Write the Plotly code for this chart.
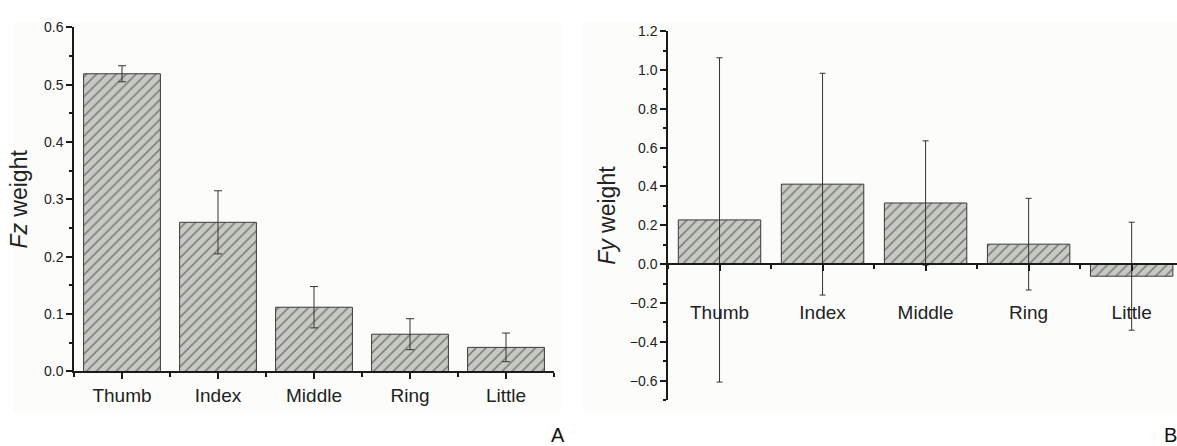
import plotly.graph_objects as go

W, H = 1177, 446

categories = ["Thumb", "Index", "Middle", "Ring", "Little"]
fz_values = [0.519, 0.260, 0.112, 0.065, 0.042]
fz_errors = [0.014, 0.055, 0.036, 0.027, 0.025]
fy_values = [0.228, 0.412, 0.315, 0.103, -0.062]
fy_errors = [0.835, 0.571, 0.320, 0.236, 0.278]

FONT = "Liberation Sans, Arial, sans-serif"
BAR_BG = "#c7c9c3"
HATCH = "#262626"
EDGE = "#3a3a3a"
AX = "#1a1a1a"

xs = list(range(len(categories)))

def bar_trace(vals, errs, xa, ya, cap):
    return go.Bar(
        x=xs, y=vals, width=0.8, xaxis=xa, yaxis=ya, showlegend=False,
        marker=dict(color=BAR_BG, line=dict(color=EDGE, width=1),
                    pattern=dict(shape="/", fgcolor=HATCH, bgcolor=BAR_BG,
                                 size=7, solidity=0.22)),
        error_y=dict(type="data", array=errs, visible=True, color="#333333",
                     thickness=1, width=cap),
    )

fig = go.Figure()
fig.add_trace(bar_trace(fz_values, fz_errors, "x", "y", 4))
fig.add_trace(bar_trace(fy_values, fy_errors, "x2", "y2", 3))

# domains in pixels -> paper fractions
a_x = [74 / W, 554 / W]
a_y = [1 - 377 / H, 1 - 20 / H]
b_x = [668 / W, 1.0]
b_y = [1 - 406.7 / H, 1 - 24 / H]
b_range = [-0.7, 1.2]
zero_pos = b_y[0] + (0 - b_range[0]) / (b_range[1] - b_range[0]) * (b_y[1] - b_y[0])

tickfont = dict(family=FONT, size=14, color="#222")
catfont = dict(family=FONT, size=19, color="#222")
titlefont = dict(family=FONT, size=23, color="#222")

common_x = dict(
    tickmode="array", tickvals=xs, ticktext=categories,
    showline=True, linecolor=AX, linewidth=1.5, ticks="outside", ticklen=6,
    tickwidth=1.5, tickcolor=AX, showgrid=False, zeroline=False, tickfont=catfont,
    minor=dict(tickmode="linear", tick0=0.5, dtick=1, ticks="outside", ticklen=4,
               tickwidth=1.5, tickcolor=AX, showgrid=False),
)

fig.update_layout(
    width=W, height=H, margin=dict(l=0, r=0, t=0, b=0),
    paper_bgcolor="white", plot_bgcolor="rgba(0,0,0,0)",
    bargap=0.2,
    xaxis=dict(domain=a_x, range=[-0.5, 4.5], anchor="y", **common_x),
    yaxis=dict(domain=a_y, range=[0, 0.6], anchor="x", dtick=0.1, tick0=0,
               tickformat=".1f", showline=True, linecolor=AX, linewidth=1.5,
               ticks="outside", ticklen=6, tickwidth=1.5, tickcolor=AX,
               showgrid=False, zeroline=False, tickfont=tickfont,
               minor=dict(dtick=0.05, ticks="outside", ticklen=3, tickwidth=1.5,
                          tickcolor=AX, showgrid=False),
               title=dict(text="<i>Fz</i> weight", standoff=10, font=titlefont)),
    xaxis2=dict(domain=b_x, range=[-0.5, 4.44], anchor="free", position=zero_pos,
                ticklabelstandoff=25, **common_x),
    yaxis2=dict(domain=b_y, range=b_range, anchor="x2", dtick=0.2, tick0=0,
                tickformat=".1f", showline=True, linecolor=AX, linewidth=1.5,
                ticks="outside", ticklen=6, tickwidth=1.5, tickcolor=AX,
                showgrid=False, zeroline=False, tickfont=tickfont,
                minor=dict(dtick=0.1, ticks="outside", ticklen=3, tickwidth=1.5,
                           tickcolor=AX, showgrid=False),
                title=dict(text="<i>Fy</i> weight", standoff=8, font=titlefont)),
    shapes=[
        dict(type="rect", xref="paper", yref="paper", x0=13 / W, x1=562 / W,
             y0=1 - 418 / H, y1=1 - 15 / H, fillcolor="#fcfdfb", line=dict(width=0),
             layer="below"),
        dict(type="rect", xref="paper", yref="paper", x0=583 / W, x1=1.0,
             y0=1 - 418 / H, y1=1 - 15 / H, fillcolor="#fcfdfb", line=dict(width=0),
             layer="below"),
    ],
    annotations=[
        dict(text="A", xref="paper", yref="paper", x=558 / W, y=1 - 443 / H,
             xanchor="center", yanchor="middle",
             showarrow=False, font=dict(family=FONT, size=20, color="#111")),
        dict(text="B", xref="paper", yref="paper", x=1.0, y=1 - 443 / H,
             xanchor="right", yanchor="middle", xshift=2, showarrow=False,
             font=dict(family=FONT, size=20, color="#111")),
    ],
)

fig.write_html(
    "out.html",
    config={"displayModeBar": False},
    post_script="document.body.style.margin='0';document.body.style.overflow='hidden';",
)
